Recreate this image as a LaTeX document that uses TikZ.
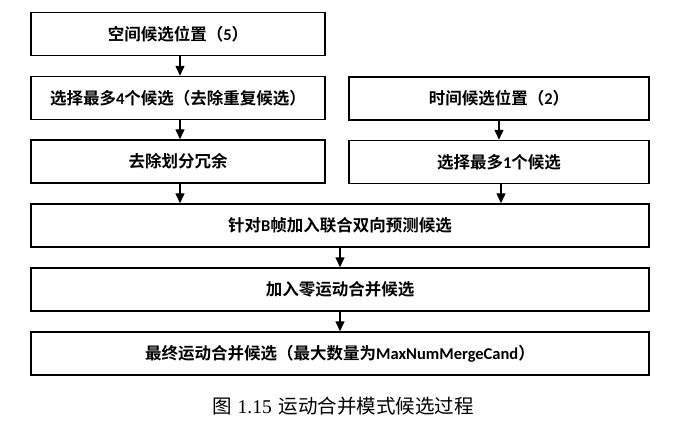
\documentclass[tikz,border=0pt]{standalone}
\usepackage{fontspec}
\setmainfont{Carlito}
\newfontfamily\cjkb{Noto Sans CJK SC Bold}
\newfontfamily\cjkr{Noto Sans CJK SC}
\newfontfamily\latb{Carlito}[BoldFont=* Bold]
\newfontfamily\capser{Liberation Serif}
\usetikzlibrary{arrows.meta}
\newcommand{\latn}[1]{{\latb\bfseries #1}}
\begin{document}
\begin{tikzpicture}[x=1pt,y=-1pt,
  box/.style={draw, line width=1.5pt, minimum height=43pt, inner sep=0pt, font=\cjkb\fontsize{16.5}{19}\selectfont},
  arr/.style={line width=1.4pt, -{Triangle[length=10pt,width=9pt]}}]
\useasboundingbox (0,0) rectangle (680,429);
\node[box, minimum width=294pt] (b1) at (178,34) {空间候选位置（\latn{5}）};
\node[box, minimum width=294pt] (b2) at (178,98) {选择最多\latn{4}个候选（去除重复候选）};
\node[box, minimum width=294pt] (b3) at (178,161.5) {去除划分冗余};
\node[box, minimum width=300pt] (r1) at (499,98.5) {时间候选位置（\latn{2}）};
\node[box, minimum width=300pt] (r2) at (499,162) {选择最多\latn{1}个候选};
\node[box, minimum width=618pt] (l1) at (340,225.5) {针对\latn{B}帧加入联合双向预测候选};
\node[box, minimum width=618pt] (l2) at (340,289.5) {加入零运动合并候选};
\node[box, minimum width=618pt] (l3) at (340,353.5) {最终运动合并候选（最大数量为\latn{MaxNumMergeCand}）};
\node[font=\cjkr\fontsize{19.5}{22}\selectfont] (cap) at (343,406) {图\hspace{6pt}{\capser 1.15}\hspace{7pt}运动合并模式候选过程};
\draw[arr] (b1.south -| 180,0) -- (b2.north -| 180,0);
\draw[arr] (b2.south -| 180,0) -- (b3.north -| 180,0);
\draw[arr] (b3.south -| 180,0) -- (l1.north -| 180,0);
\draw[arr] (r1) -- (r2);
\draw[arr] (r2.south -| 501,0) -- (l1.north -| 501,0);
\draw[arr] (l1) -- (l2);
\draw[arr] (l2) -- (l3);
\end{tikzpicture}
\end{document}
